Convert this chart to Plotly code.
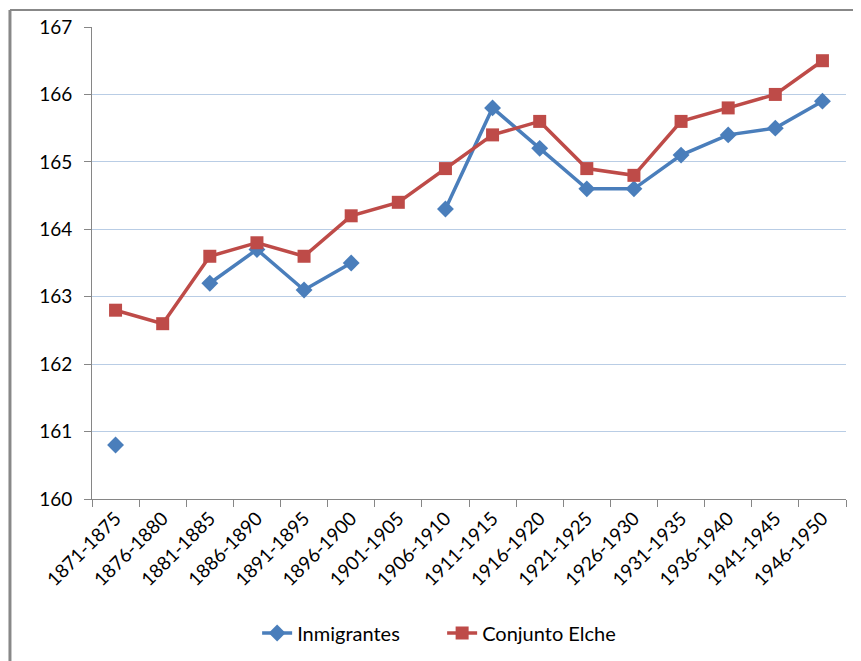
import plotly.graph_objects as go

categories = ["1871-1875", "1876-1880", "1881-1885", "1886-1890", "1891-1895", "1896-1900",
              "1901-1905", "1906-1910", "1911-1915", "1916-1920", "1921-1925", "1926-1930",
              "1931-1935", "1936-1940", "1941-1945", "1946-1950"]
inmigrantes = [160.8, None, 163.2, 163.7, 163.1, 163.5, None, 164.3, 165.8, 165.2,
               164.6, 164.6, 165.1, 165.4, 165.5, 165.9]
conjunto_elche = [162.8, 162.6, 163.6, 163.8, 163.6, 164.2, 164.4, 164.9, 165.4, 165.6,
                  164.9, 164.8, 165.6, 165.8, 166.0, 166.5]
y_ticks = [160, 161, 162, 163, 164, 165, 166, 167]

fig = go.Figure()
fig.add_trace(go.Scatter(x=categories, y=inmigrantes, name="Inmigrantes", mode="lines+markers",
                         connectgaps=False,
                         line=dict(color="#4A7EBB", width=3.5),
                         marker=dict(symbol="diamond", size=13, color="#4A7EBB")))
fig.add_trace(go.Scatter(x=categories, y=conjunto_elche, name="Conjunto Elche", mode="lines+markers",
                         line=dict(color="#BE4B48", width=3.5),
                         marker=dict(symbol="square", size=13, color="#BE4B48")))

fig.update_layout(
    width=853, height=653,
    margin=dict(l=84, r=15, t=19, b=162, autoexpand=False),
    paper_bgcolor="white", plot_bgcolor="white",
    font=dict(family="Lato, Open Sans, sans-serif", size=18, color="#000000"),
    showlegend=True,
    legend=dict(orientation="h", x=0.219, xanchor="left", y=-0.284, yanchor="middle",
                font=dict(size=20), entrywidth=140, entrywidthmode="pixels"),
    xaxis=dict(type="category", tickangle=-45, showgrid=False, automargin=False,
               showline=True, linecolor="#868686", linewidth=1,
               ticks="outside", tickson="boundaries", ticklen=7, tickcolor="#868686",
               tickfont=dict(size=19),
               range=[-0.5, len(categories) - 0.5]),
    yaxis=dict(range=[160, 167], tickvals=y_ticks, showgrid=True, gridcolor="#B9CDE5", gridwidth=1,
               showline=True, linecolor="#868686", linewidth=1, automargin=False,
               ticks="outside", ticklen=7, tickcolor="#868686", zeroline=False,
               ticklabelstandoff=8, tickfont=dict(size=19)),
    shapes=[
        dict(type="line", xref="paper", yref="paper", x0=-0.1088, x1=1.03, y0=1.036, y1=1.036,
             line=dict(color="#888888", width=2)),
        dict(type="line", xref="paper", yref="paper", x0=-0.1088, x1=-0.1088, y0=1.036, y1=-0.36,
             line=dict(color="#888888", width=3)),
    ],
)

fig.write_html("out.html")
